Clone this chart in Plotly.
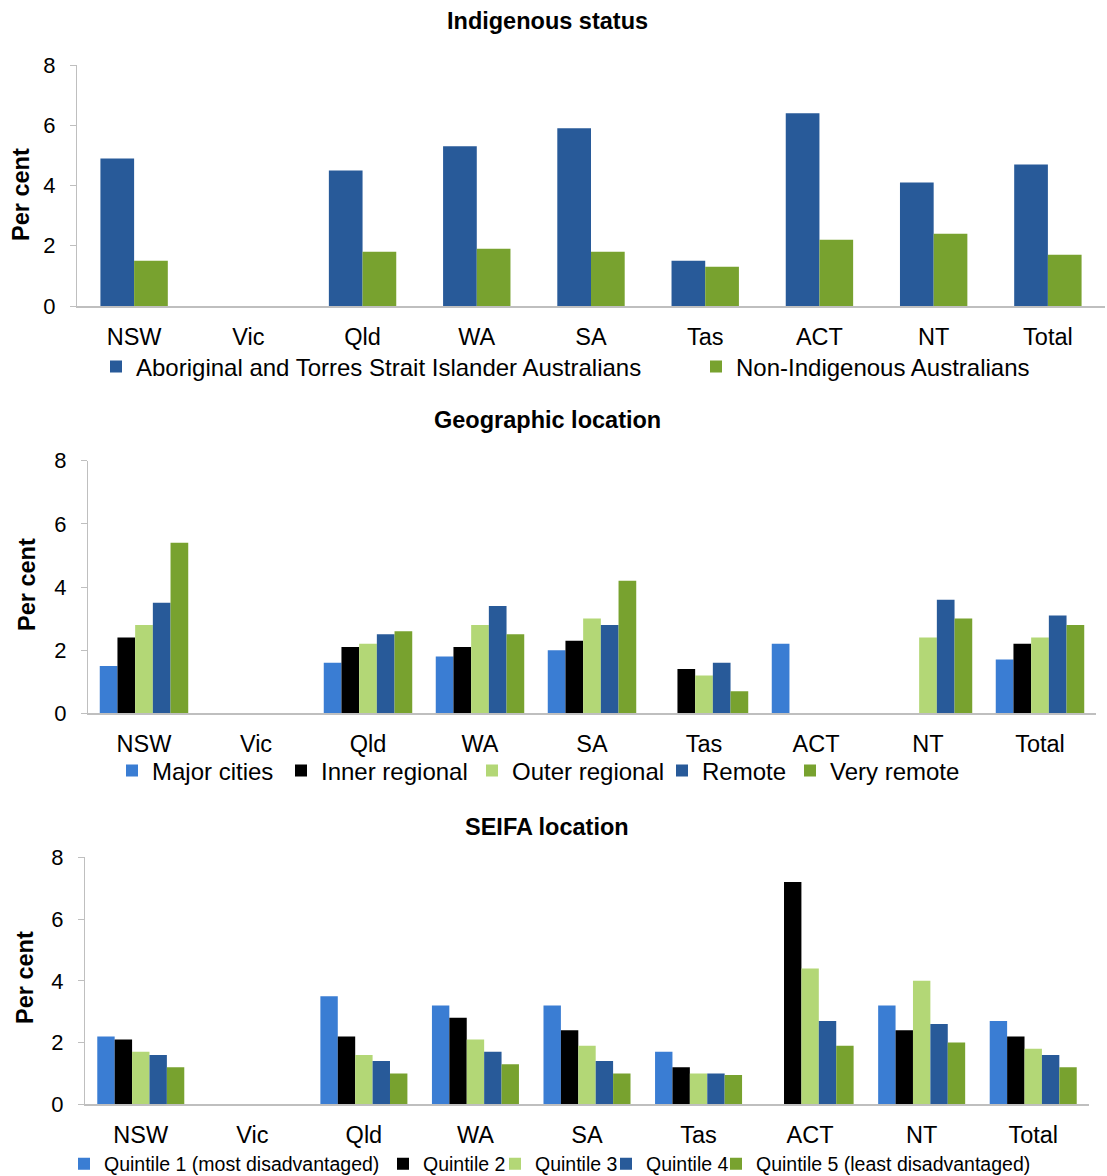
import plotly.graph_objects as go

W, H = 1107, 1176

states = ["NSW", "Vic", "Qld", "WA", "SA", "Tas", "ACT", "NT", "Total"]

# Indigenous status
indigenous_names = ["Aboriginal and Torres Strait Islander Australians", "Non-Indigenous Australians"]
indigenous = [4.9, None, 4.5, 5.3, 5.9, 1.5, 6.4, 4.1, 4.7]
non_indigenous = [1.5, None, 1.8, 1.9, 1.8, 1.3, 2.2, 2.4, 1.7]

# Geographic location
remoteness_names = ["Major cities", "Inner regional", "Outer regional", "Remote", "Very remote"]
major_cities = [1.5, None, 1.6, 1.8, 2.0, None, 2.2, None, 1.7]
inner_regional = [2.4, None, 2.1, 2.1, 2.3, 1.4, None, None, 2.2]
outer_regional = [2.8, None, 2.2, 2.8, 3.0, 1.2, None, 2.4, 2.4]
remote = [3.5, None, 2.5, 3.4, 2.8, 1.6, None, 3.6, 3.1]
very_remote = [5.4, None, 2.6, 2.5, 4.2, 0.7, None, 3.0, 2.8]

# SEIFA location
seifa_names = ["Quintile 1 (most disadvantaged)", "Quintile 2", "Quintile 3",
               "Quintile 4", "Quintile 5 (least disadvantaged)"]
quintile_1 = [2.2, None, 3.5, 3.2, 3.2, 1.7, None, 3.2, 2.7]
quintile_2 = [2.1, None, 2.2, 2.8, 2.4, 1.2, 7.2, 2.4, 2.2]
quintile_3 = [1.7, None, 1.6, 2.1, 1.9, 1.0, 4.4, 4.0, 1.8]
quintile_4 = [1.6, None, 1.4, 1.7, 1.4, 1.0, 2.7, 2.6, 1.6]
quintile_5 = [1.2, None, 1.0, 1.3, 1.0, 0.95, 1.9, 2.0, 1.2]

panel_titles = ["Indigenous status", "Geographic location", "SEIFA location"]
y_title = "Per cent"

DARK_BLUE = "#285A99"
GREEN = "#78A22F"
LIGHT_BLUE = "#3A7DD3"
BLACK = "#000000"
LIGHT_GREEN = "#B3D776"
AXIS_GREY = "#BFBFBF"
FONT = "Liberation Sans, Arial, sans-serif"

# a legend entry's text starts this many px right of its legend box
LEGEND_TEXT_OFFSET = 40


def px_x(x):
    return x / W


def px_y(y):
    return 1 - y / H


panels = [
    dict(names=indigenous_names, values=[indigenous, non_indigenous],
         colors=[DARK_BLUE, GREEN], xa="x", ya="y",
         geo=dict(x0=77, x1=1105, y0=65, y1=306, gap=0.41),
         legend_text_x=[136, 736], legend_y=367, legend_size=24),
    dict(names=remoteness_names,
         values=[major_cities, inner_regional, outer_regional, remote, very_remote],
         colors=[LIGHT_BLUE, BLACK, LIGHT_GREEN, DARK_BLUE, GREEN],
         xa="x2", ya="y2",
         geo=dict(x0=88, x1=1096, y0=460.7, y1=713.3, gap=0.21),
         legend_text_x=[152, 321, 512, 702, 830], legend_y=771, legend_size=24),
    dict(names=seifa_names,
         values=[quintile_1, quintile_2, quintile_3, quintile_4, quintile_5],
         colors=[LIGHT_BLUE, BLACK, LIGHT_GREEN, DARK_BLUE, GREEN],
         xa="x3", ya="y3",
         geo=dict(x0=85, x1=1089, y0=857.3, y1=1104.3, gap=0.22),
         legend_text_x=[104, 423, 535, 646, 756], legend_y=1164, legend_size=19.5),
]

fig = go.Figure()
layout = dict(
    width=W, height=H,
    margin=dict(l=0, r=0, t=0, b=0, autoexpand=False),
    paper_bgcolor="white", plot_bgcolor="white",
    font=dict(family=FONT, color="#000000", size=22),
    barmode="group",
    showlegend=True,
)

legend_no = 0
for i, p in enumerate(panels):
    sfx = "" if i == 0 else str(i + 1)
    g = p["geo"]
    n = len(p["names"])
    w = (1 - g["gap"]) / n
    for k, (name, vals, col) in enumerate(zip(p["names"], p["values"], p["colors"])):
        legend_no += 1
        lname = "legend" if legend_no == 1 else "legend%d" % legend_no
        fig.add_trace(go.Bar(
            x=states, y=vals, name=name, marker_color=col,
            marker_line_width=0, xaxis=p["xa"], yaxis=p["ya"],
            width=w, offset=-(1 - g["gap"]) / 2 + k * w,
            legend=lname,
        ))
        # one legend box per series so each key sits where it belongs
        layout[lname] = dict(
            orientation="h",
            x=px_x(p["legend_text_x"][k] - LEGEND_TEXT_OFFSET), xanchor="left",
            y=px_y(p["legend_y"]), yanchor="middle",
            font=dict(size=p["legend_size"], family=FONT, color="#000000"),
            bgcolor="rgba(0,0,0,0)", borderwidth=0,
        )

    layout["xaxis" + sfx] = dict(
        domain=[px_x(g["x0"]), px_x(g["x1"])],
        anchor="y" + sfx,
        type="category",
        showline=True, linecolor=AXIS_GREY, linewidth=1.5,
        ticks="", showgrid=False, zeroline=False,
        tickfont=dict(size=23.5, color="#000000"),
        ticklabelstandoff=9,
    )
    layout["yaxis" + sfx] = dict(
        domain=[px_y(g["y1"]), px_y(g["y0"])],
        anchor="x" + sfx,
        range=[0, 8], dtick=2, tick0=0,
        showline=True, linecolor=AXIS_GREY, linewidth=1,
        ticks="outside", ticklen=6, tickcolor=AXIS_GREY, tickwidth=1,
        showgrid=False, zeroline=False,
        tickfont=dict(size=22, color="#000000"),
        ticklabelstandoff=10,
    )

fig.update_layout(**layout)

# panel titles
title_y = [21, 420, 827]
for t, ty in zip(panel_titles, title_y):
    fig.add_annotation(text="<b>%s</b>" % t, x=px_x(547), y=px_y(ty),
                       xref="paper", yref="paper", showarrow=False,
                       xanchor="center", yanchor="middle",
                       font=dict(size=23.5, family=FONT, color="#000000"))

# y-axis titles
ytitle_pos = [(21, 195), (27, 585), (25, 978)]
for (tx, ty) in ytitle_pos:
    fig.add_annotation(text="<b>%s</b>" % y_title, x=px_x(tx), y=px_y(ty),
                       xref="paper", yref="paper", showarrow=False,
                       textangle=-90, xanchor="center", yanchor="middle",
                       font=dict(size=23.5, family=FONT, color="#000000"))

fig.write_html("out.html")
